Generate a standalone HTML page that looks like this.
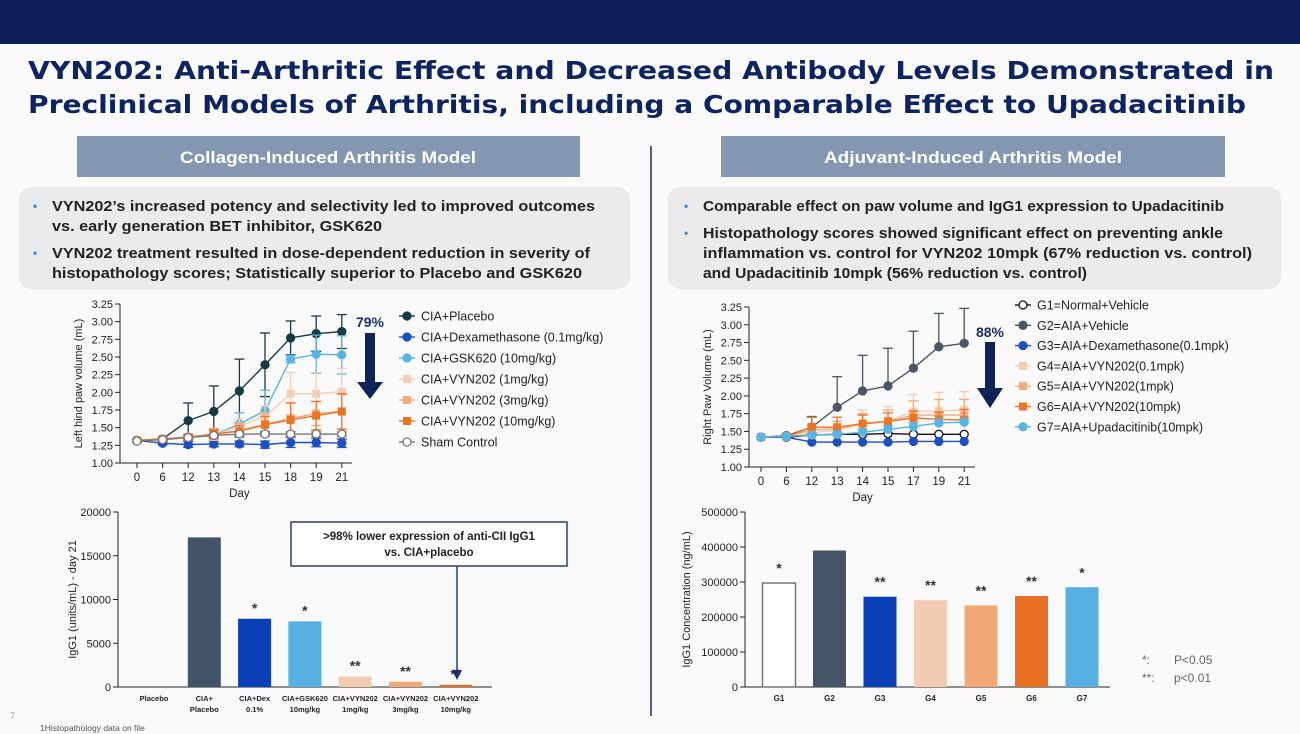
<!DOCTYPE html>
<html><head><meta charset="utf-8">
<style>
html,body{margin:0;padding:0;background:#fafafa;}
svg{display:block;font-family:"Liberation Sans",sans-serif;}
</style></head>
<body>
<svg id="s" width="1300" height="734" viewBox="0 0 1300 734" xmlns="http://www.w3.org/2000/svg">
<rect x="0" y="0" width="1300" height="734" fill="#fafafa"/>
<rect x="0" y="0" width="1300" height="44" fill="#0b1f5c"/>
<g font-family="'DejaVu Sans',sans-serif" font-weight="bold" font-size="25" fill="#0e2460">
<text x="28" y="79" textLength="1246" lengthAdjust="spacingAndGlyphs">VYN202: Anti-Arthritic Effect and Decreased Antibody Levels Demonstrated in</text>
<text x="28" y="113" textLength="1218" lengthAdjust="spacingAndGlyphs">Preclinical Models of Arthritis, including a Comparable Effect to Upadacitinib</text>
</g>
<rect x="77" y="136" width="503" height="41" fill="#8497b0"/>
<text x="328" y="163" text-anchor="middle" fill="#fff" font-size="17" font-weight="bold" textLength="296" lengthAdjust="spacingAndGlyphs">Collagen-Induced Arthritis Model</text>
<rect x="721" y="136" width="504" height="41" fill="#8497b0"/>
<text x="973" y="163" text-anchor="middle" fill="#fff" font-size="17" font-weight="bold" textLength="298" lengthAdjust="spacingAndGlyphs">Adjuvant-Induced Arthritis Model</text>
<line x1="651" y1="146" x2="651" y2="716" stroke="#1a2b55" stroke-width="1.5"/>
<rect x="19" y="187" width="611" height="102" rx="12" fill="#ebebeb"/>
<rect x="668" y="187" width="613" height="102" rx="12" fill="#ebebeb"/>
<g font-size="15" font-weight="bold" fill="#222">
<text x="33" y="210" fill="#3a8fd0" font-size="12">•</text>
<text x="52" y="211" textLength="543" lengthAdjust="spacingAndGlyphs">VYN202’s increased potency and selectivity led to improved outcomes</text>
<text x="52" y="231" textLength="330" lengthAdjust="spacingAndGlyphs">vs. early generation BET inhibitor, GSK620</text>
<text x="33" y="257" fill="#3a8fd0" font-size="12">•</text>
<text x="52" y="258" textLength="538" lengthAdjust="spacingAndGlyphs">VYN202 treatment resulted in dose-dependent reduction in severity of</text>
<text x="52" y="278" textLength="530" lengthAdjust="spacingAndGlyphs">histopathology scores; Statistically superior to Placebo and GSK620</text>
</g>
<g font-size="15" font-weight="bold" fill="#222">
<text x="684" y="210" fill="#3a8fd0" font-size="12">•</text>
<text x="703" y="211" textLength="521" lengthAdjust="spacingAndGlyphs">Comparable effect on paw volume and IgG1 expression to Upadacitinib</text>
<text x="684" y="237" fill="#3a8fd0" font-size="12">•</text>
<text x="703" y="238" textLength="520" lengthAdjust="spacingAndGlyphs">Histopathology scores showed significant effect on preventing ankle</text>
<text x="703" y="258" textLength="549" lengthAdjust="spacingAndGlyphs">inflammation vs. control for VYN202 10mpk (67% reduction vs. control)</text>
<text x="703" y="278" textLength="384" lengthAdjust="spacingAndGlyphs">and Upadacitinib 10mpk (56% reduction vs. control)</text>
</g>
<text x="10" y="719" font-size="9" fill="#999">7</text>
<text x="40" y="731" font-size="8.5" fill="#555">1Histopathology data on file</text>
<g font-size="12" fill="#666">
<text x="1142" y="664">*:</text><text x="1174" y="664">P&lt;0.05</text>
<text x="1142" y="682">**:</text><text x="1174" y="682">p&lt;0.01</text>
</g>
<g id="charts"></g>
</svg>
<script>
// ---- Left line chart (CIA) data ----
const ciaDays = ["0","6","12","13","14","15","18","19","21"];
const ciaYTicks = [1.00,1.25,1.50,1.75,2.00,2.25,2.50,2.75,3.00,3.25];
const ciaNames = ["CIA+Placebo","CIA+Dexamethasone (0.1mg/kg)","CIA+GSK620 (10mg/kg)","CIA+VYN202 (1mg/kg)","CIA+VYN202 (3mg/kg)","CIA+VYN202 (10mg/kg)","Sham Control"];
const ciaPlacebo = [1.32,1.34,1.60,1.73,2.02,2.39,2.77,2.83,2.86];
const ciaDex = [1.32,1.28,1.26,1.27,1.27,1.26,1.29,1.29,1.28];
const ciaGsk = [1.32,1.34,1.37,1.40,1.55,1.74,2.47,2.54,2.53];
const ciaVyn1 = [1.32,1.34,1.37,1.40,1.52,1.66,1.98,1.98,2.01];
const ciaVyn3 = [1.32,1.34,1.37,1.41,1.46,1.55,1.63,1.70,1.73];
const ciaVyn10 = [1.32,1.34,1.36,1.41,1.45,1.54,1.61,1.67,1.73];
const ciaSham = [1.31,1.33,1.36,1.39,1.41,1.41,1.41,1.41,1.41];
const ciaPlaceboErr = [0.02,0.02,0.25,0.36,0.45,0.45,0.24,0.25,0.24];
const ciaDexErr = [0.02,0.02,0.04,0.04,0.04,0.05,0.07,0.06,0.06];
const ciaGskErr = [0.02,0.02,0.04,0.06,0.16,0.29,0.05,0.27,0.27];
const ciaVyn1Err = [0.02,0.02,0.04,0.08,0.10,0.15,0.30,0.30,0.33];
const ciaVyn3Err = [0.02,0.02,0.04,0.08,0.10,0.15,0.22,0.17,0.25];
const ciaVyn10Err = [0.02,0.02,0.04,0.06,0.08,0.12,0.24,0.20,0.25];
const ciaShamErr = [0.02,0.02,0.02,0.02,0.03,0.03,0.03,0.03,0.03];
// ---- Right line chart (AIA) data ----
const aiaDays = ["0","6","12","13","14","15","17","19","21"];
const aiaYTicks = [1.00,1.25,1.50,1.75,2.00,2.25,2.50,2.75,3.00,3.25];
const aiaNames = ["G1=Normal+Vehicle","G2=AIA+Vehicle","G3=AIA+Dexamethasone(0.1mpk)","G4=AIA+VYN202(0.1mpk)","G5=AIA+VYN202(1mpk)","G6=AIA+VYN202(10mpk)","G7=AIA+Upadacitinib(10mpk)"];
const aiaG1 = [1.42,1.42,1.45,1.46,1.46,1.47,1.46,1.46,1.46];
const aiaG2 = [1.42,1.44,1.56,1.84,2.07,2.14,2.39,2.69,2.74];
const aiaG3 = [1.42,1.42,1.35,1.35,1.35,1.35,1.36,1.36,1.36];
const aiaG4 = [1.42,1.43,1.48,1.52,1.60,1.65,1.78,1.79,1.80];
const aiaG5 = [1.42,1.43,1.52,1.54,1.61,1.64,1.73,1.73,1.73];
const aiaG6 = [1.42,1.43,1.56,1.56,1.61,1.64,1.69,1.67,1.66];
const aiaG7 = [1.42,1.43,1.45,1.46,1.49,1.53,1.57,1.62,1.63];
const aiaG1Err = [0,0,0,0,0,0,0,0,0];
const aiaG2Err = [0.01,0.02,0.15,0.43,0.50,0.53,0.52,0.47,0.49];
const aiaG3Err = [0,0,0.01,0.01,0.01,0.01,0.01,0.01,0.01];
const aiaG4Err = [0.01,0.01,0.08,0.12,0.20,0.20,0.24,0.26,0.26];
const aiaG5Err = [0.01,0.01,0.08,0.10,0.14,0.16,0.20,0.22,0.22];
const aiaG6Err = [0.01,0.01,0.14,0.14,0.12,0.12,0.10,0.10,0.15];
const aiaG7Err = [0.01,0.01,0.03,0.03,0.04,0.05,0.05,0.05,0.05];
// ---- Left bar chart ----
const ciaBarCats = [["Placebo"],["CIA+","Placebo"],["CIA+Dex","0.1%"],["CIA+GSK620","10mg/kg"],["CIA+VYN202","1mg/kg"],["CIA+VYN202","3mg/kg"],["CIA+VYN202","10mg/kg"]];
const ciaBarValues = [0,17100,7800,7500,1200,600,250];
const ciaBarSig = ["","","*","*","**","**","**"];
const ciaBarTicks = [0,5000,10000,15000,20000];
// ---- Right bar chart ----
const aiaBarCats = ["G1","G2","G3","G4","G5","G6","G7"];
const aiaBarValues = [297000,390000,258000,248000,233000,260000,285000];
const aiaBarSig = ["*","","**","**","**","**","*"];
const aiaBarTicks = [0,100000,200000,300000,400000,500000];

const NS="http://www.w3.org/2000/svg";
const root=document.getElementById('charts');
function el(tag,attrs,parent){const e=document.createElementNS(NS,tag);for(const k in attrs)e.setAttribute(k,attrs[k]);(parent||root).appendChild(e);return e;}

function lineChart(cfg){
  const g=el('g',{});
  
  
  const ymin=cfg.yTicks[0],ymax=cfg.yTicks[cfg.yTicks.length-1];
  const y=v=>cfg.y0-(v-ymin)/(ymax-ymin)*(cfg.y0-cfg.y1);
  const x=i=>cfg.x0+i*cfg.dx;
  el('line',{x1:cfg.ax,y1:cfg.y1,x2:cfg.ax,y2:cfg.y0,stroke:'#222','stroke-width':1},g);
  el('line',{x1:cfg.ax,y1:cfg.y0,x2:cfg.xEnd,y2:cfg.y0,stroke:'#222','stroke-width':1},g);
  cfg.yTicks.forEach(t=>{
    el('line',{x1:cfg.ax-5,y1:y(t),x2:cfg.ax,y2:y(t),stroke:'#222'},g);
    const tx=el('text',{x:cfg.ax-7,y:y(t)+4,'text-anchor':'end','font-size':11,fill:'#222'},g);
    
    
    tx.textContent=t.toFixed(2);
  });
  cfg.cats.forEach((c,i)=>{
    el('line',{x1:x(i),y1:cfg.y0,x2:x(i),y2:cfg.y0+5,stroke:'#222'},g);
    const tx=el('text',{x:x(i),y:cfg.y0+18,'text-anchor':'middle','font-size':11.5,fill:'#222'},g);
    
    
    tx.textContent=c;
  });
  const xt=el('text',{x:(cfg.x0+x(cfg.cats.length-1))/2,y:cfg.y0+34,'text-anchor':'middle','font-size':11.5,fill:'#222'},g);
  
  
  xt.textContent='Day';
  const yt=el('text',{x:0,y:0,transform:`translate(${cfg.ax-38},${(cfg.y0+cfg.y1)/2}) rotate(-90)`,'text-anchor':'middle','font-size':11,fill:'#222'},g);
  
  
  yt.textContent=cfg.yTitle;
  cfg.series.forEach((s,si)=>{
    const sg=el('g',{},g);
    
    
    s.vals.forEach((v,i)=>{
      const e=s.err[i]; if(e<=0.015) return;
      el('line',{x1:x(i),y1:y(v+e),x2:x(i),y2:s.upOnly?y(v):y(v-e),stroke:s.color,'stroke-width':1.3},sg);
      el('line',{x1:x(i)-5,y1:y(v+e),x2:x(i)+5,y2:y(v+e),stroke:s.color,'stroke-width':1.3},sg);
      if(!s.upOnly) el('line',{x1:x(i)-5,y1:y(v-e),x2:x(i)+5,y2:y(v-e),stroke:s.color,'stroke-width':1.3},sg);
    });
    el('polyline',{points:s.vals.map((v,i)=>x(i)+','+y(v)).join(' '),fill:'none',stroke:s.color,'stroke-width':1.4},sg);
    s.vals.forEach((v,i)=>{
      const m = s.shape==='sq' ? el('rect',{x:x(i)-4,y:y(v)-4,width:8,height:8,fill:s.color},sg)
        : el('circle',{cx:x(i),cy:y(v),r:4,fill:s.open?'#fff':s.color,stroke:s.color,'stroke-width':1.3},sg);
      
      
    });
    const ly=cfg.legY+si*cfg.legDy;
    const lg=el('g',{},g);
    
    
    el('line',{x1:cfg.legX,y1:ly,x2:cfg.legX+16,y2:ly,stroke:s.color,'stroke-width':1.4},lg);
    if(s.shape==='sq') el('rect',{x:cfg.legX+4,y:ly-4,width:8,height:8,fill:s.color},lg);
    else el('circle',{cx:cfg.legX+8,cy:ly,r:4,fill:s.open?'#fff':s.color,stroke:s.color,'stroke-width':1.3},lg);
    const lt=el('text',{x:cfg.legX+22,y:ly+4.5,'font-size':12.5,fill:'#222'},lg);
    lt.textContent=s.label;
  });
  const ag=el('g',{},g);
  
  
  const a=cfg.arrow;
  const at=el('text',{x:a.cx,y:a.ty,'text-anchor':'middle','font-size':14,'font-weight':'bold',fill:'#1b2f66'},ag);
  at.textContent=a.label;
  el('rect',{x:a.cx-5,y:a.top,width:10,height:a.headY-a.top,fill:'#0f2357'},ag);
  el('polygon',{points:`${a.cx-13},${a.headY} ${a.cx+13},${a.headY} ${a.cx},${a.tip}`,fill:'#0f2357'},ag);
}

lineChart({name:'cia-paw-volume-chart',ax:120,x0:137,dx:25.6,xEnd:352,y0:463,y1:304,yTicks:ciaYTicks,cats:ciaDays,
  yTitle:'Left hind paw volume (mL)',legX:399,legY:316,legDy:21,
  arrow:{cx:370,ty:327,top:333,headY:382,tip:399,label:'79%'},
  series:[
    {label:ciaNames[0],vals:ciaPlacebo,err:ciaPlaceboErr,color:'#173b45'},
    {label:ciaNames[1],vals:ciaDex,err:ciaDexErr,color:'#1e4ec0'},
    {label:ciaNames[2],vals:ciaGsk,err:ciaGskErr,color:'#5ab4e2'},
    {label:ciaNames[3],vals:ciaVyn1,err:ciaVyn1Err,color:'#f4cdb5',shape:'sq'},
    {label:ciaNames[4],vals:ciaVyn3,err:ciaVyn3Err,color:'#f2aa7a',shape:'sq'},
    {label:ciaNames[5],vals:ciaVyn10,err:ciaVyn10Err,color:'#ec7426',shape:'sq'},
    {label:ciaNames[6],vals:ciaSham,err:ciaShamErr,color:'#777',open:true}
  ]});

lineChart({name:'aia-paw-volume-chart',ax:749,x0:761,dx:25.4,xEnd:975,y0:467,y1:307,yTicks:aiaYTicks,cats:aiaDays,
  yTitle:'Right Paw Volume (mL)',legX:1015,legY:305,legDy:20.3,
  arrow:{cx:990,ty:337,top:342,headY:388,tip:408,label:'88%'},
  series:[
    {label:aiaNames[0],vals:aiaG1,err:aiaG1Err,color:'#111',open:true},
    {label:aiaNames[1],vals:aiaG2,err:aiaG2Err,color:'#4a5667',upOnly:true},
    {label:aiaNames[2],vals:aiaG3,err:aiaG3Err,color:'#1e4ec0'},
    {label:aiaNames[3],vals:aiaG4,err:aiaG4Err,color:'#f4cdb5',shape:'sq',upOnly:true},
    {label:aiaNames[4],vals:aiaG5,err:aiaG5Err,color:'#f2aa7a',shape:'sq',upOnly:true},
    {label:aiaNames[5],vals:aiaG6,err:aiaG6Err,color:'#ec7426',shape:'sq',upOnly:true},
    {label:aiaNames[6],vals:aiaG7,err:aiaG7Err,color:'#5ab4e2',upOnly:true}
  ]});

function barChart(cfg){
  const g=el('g',{});
  
  
  const ymax=cfg.ticks[cfg.ticks.length-1];
  const y=v=>cfg.y0-v/ymax*(cfg.y0-cfg.y1);
  const x=i=>cfg.x0+i*cfg.dx;
  el('line',{x1:cfg.ax,y1:cfg.y1,x2:cfg.ax,y2:cfg.y0,stroke:'#222'},g);
  el('line',{x1:cfg.ax,y1:cfg.y0,x2:cfg.xEnd,y2:cfg.y0,stroke:'#222'},g);
  cfg.ticks.forEach(t=>{
    el('line',{x1:cfg.ax-5,y1:y(t),x2:cfg.ax,y2:y(t),stroke:'#222'},g);
    const tx=el('text',{x:cfg.ax-7,y:y(t)+4,'text-anchor':'end','font-size':11,fill:'#222'},g);
    
    
    tx.textContent=t;
  });
  const yt=el('text',{x:0,y:0,transform:`translate(${cfg.titleX},${(cfg.y0+cfg.y1)/2}) rotate(-90)`,'text-anchor':'middle','font-size':11,fill:'#222'},g);
  
  
  yt.textContent=cfg.yTitle;
  cfg.values.forEach((v,i)=>{
    const c=cfg.colors[i];
    const b=el('rect',{x:x(i)-cfg.w/2,y:y(v),width:cfg.w,height:cfg.y0-y(v),fill:c==='open'?'#fff':c,stroke:c==='open'?'#777':'none','stroke-width':1.5},g);
    
    
    if(cfg.sig[i]){
      const s=el('text',{x:x(i),y:y(v)-cfg.sigGap,'text-anchor':'middle','font-size':14,'font-weight':'bold',fill:'#333'},g);
      
      
      s.textContent=cfg.sig[i];
    }
    const lab=[].concat(cfg.cats[i]);
    lab.forEach((l,k)=>{
      const t=el('text',{x:x(i),y:cfg.y0+14+k*11,'text-anchor':'middle','font-size':cfg.catSize,'font-weight':'bold',fill:'#222'},g);
      
      
      t.textContent=l;
    });
  });
}
barChart({name:'cia-igg1-bar-chart',ax:118,xEnd:492,x0:154,dx:50.3,w:33,y0:687,y1:512,ticks:ciaBarTicks,values:ciaBarValues,sig:ciaBarSig,cats:ciaBarCats,
  colors:['#435368','#435368','#0b3fb5','#56b0e2','#f2cbb3','#f2a877','#e87022'],yTitle:'IgG1 (units/mL) - day 21',titleX:76,sigGap:6,catSize:7.5});
barChart({name:'aia-igg1-bar-chart',ax:745,xEnd:1110,x0:779,dx:50.5,w:33,y0:687,y1:512,ticks:aiaBarTicks,values:aiaBarValues,sig:aiaBarSig,cats:aiaBarCats,
  colors:['open','#465468','#0b3fb5','#f2cbb3','#f2a877','#e87022','#56b0e2'],yTitle:'IgG1 Concentration (ng/mL)',titleX:690,sigGap:10,catSize:8});

const cg=el('g',{});


el('rect',{x:291,y:522,width:276,height:44,fill:'#fff',stroke:'#2a3f6e','stroke-width':1.5},cg);
const c1=el('text',{x:429,y:540,'text-anchor':'middle','font-size':11.5,'font-weight':'bold',fill:'#222'},cg);
c1.textContent='>98% lower expression of anti-CII IgG1';
const c2=el('text',{x:429,y:556,'text-anchor':'middle','font-size':11.5,'font-weight':'bold',fill:'#222'},cg);
c2.textContent='vs. CIA+placebo';
el('line',{x1:457,y1:566,x2:457,y2:672,stroke:'#2a3f6e','stroke-width':1.5},cg);
el('polygon',{points:'452,670 462,670 457,680',fill:'#1b2f66'},cg);
</script>
</body></html>
